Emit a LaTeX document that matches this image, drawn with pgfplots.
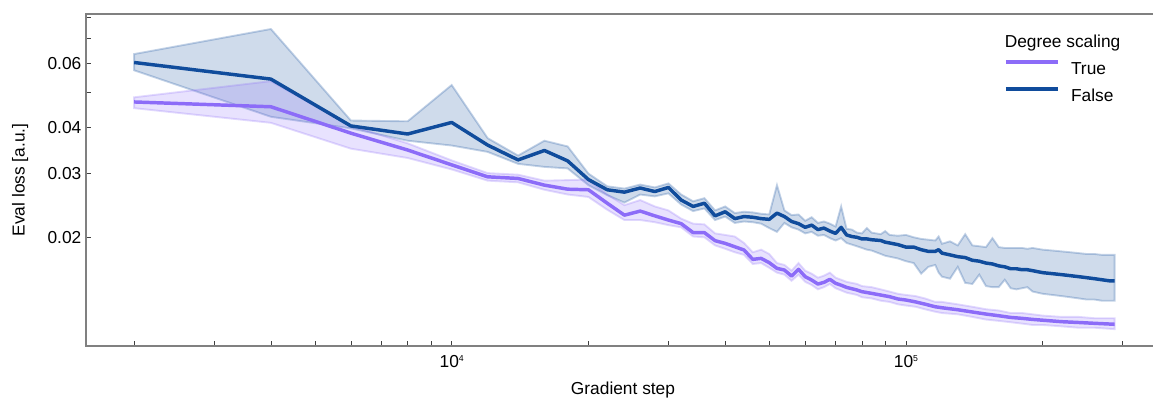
\documentclass[border=0pt]{standalone}
\usepackage{fontspec}
\setmainfont{Liberation Sans}
\usepackage{pgfplots}
\pgfplotsset{compat=1.18}
\usepackage{pgfplotstable}
\usepgfplotslibrary{fillbetween}
\definecolor{cTrue}{RGB}{140,108,248}
\definecolor{cFalse}{RGB}{16,76,156}
\definecolor{axgray}{RGB}{128,128,128}

\pgfplotstableread{
x mean lo hi
2000 0.0470 0.0452 0.0484
4000 0.0456 0.0412 0.0536
6000 0.0386 0.0350 0.0404
8000 0.0347 0.0330 0.0362
10000 0.0316 0.0307 0.0325
12000 0.0293 0.0286 0.0300
14000 0.0290 0.0283 0.0297
16000 0.0278 0.0270 0.0286
18000 0.0271 0.0262 0.0287
20000 0.0270 0.0258 0.0288
22000 0.0248 0.0238 0.0262
24000 0.0230 0.0223 0.0245
26000 0.0236 0.0223 0.0253
28000 0.0229 0.0220 0.0243
30000 0.0223 0.0216 0.0237
32000 0.0218 0.0213 0.0225
34000 0.0206 0.0201 0.0218
36000 0.0206 0.0200 0.0217
38000 0.01958 0.0190 0.0205
40000 0.01925 0.0186 0.0203
42000 0.01884 0.0182 0.0201
44000 0.01846 0.0179 0.0193
46000 0.01740 0.0169 0.0182
48000 0.01751 0.0170 0.0185
50000 0.01704 0.0165 0.0180
52000 0.01644 0.0160 0.0170
54000 0.01627 0.0158 0.0168
56000 0.01566 0.0152 0.0162
58000 0.01634 0.0158 0.0170
60000 0.01560 0.0151 0.0162
62000 0.01527 0.0148 0.0159
64000 0.01489 0.0144 0.0155
66000 0.01505 0.0146 0.0157
68000 0.01534 0.0149 0.0160
70000 0.01496 0.0145 0.0155
72000 0.01478 0.0143 0.0153
74000 0.01458 0.0141 0.0151
76000 0.01446 0.0140 0.0150
78000 0.01434 0.0139 0.0149
80000 0.01419 0.0137 0.0147
84000 0.01404 0.0136 0.0146
88000 0.01389 0.0134 0.0144
92000 0.01375 0.0133 0.0142
96000 0.01355 0.0131 0.0140
100000 0.01346 0.0130 0.0139
105000 0.01330 0.0129 0.0138
110000 0.01312 0.0127 0.0136
116000 0.01290 0.0125 0.0133
120000 0.01282 0.0124 0.0133
130000 0.01266 0.0123 0.0131
140000 0.01248 0.0121 0.0129
150000 0.01232 0.0119 0.0127
160000 0.01219 0.0118 0.0126
170000 0.01206 0.0117 0.0124
180000 0.01199 0.0116 0.0124
190000 0.01191 0.0115 0.0123
200000 0.01185 0.0115 0.0122
220000 0.01174 0.0114 0.0121
240000 0.01168 0.0113 0.0121
260000 0.01162 0.0113 0.0120
288000 0.01155 0.0112 0.0120
}\tTrue

\pgfplotstableread{
x mean lo hi
2000 0.0603 0.0574 0.0636
4000 0.0543 0.0428 0.0745
6000 0.0404 0.0398 0.0418
8000 0.0384 0.0368 0.0416
10000 0.0413 0.0357 0.0523
12000 0.0358 0.0343 0.0374
14000 0.0326 0.0318 0.0335
16000 0.0346 0.0312 0.0368
18000 0.0324 0.0309 0.0355
20000 0.0288 0.0278 0.0299
22000 0.0270 0.0261 0.0276
24000 0.0266 0.0249 0.0272
26000 0.0273 0.0262 0.0279
28000 0.0267 0.0259 0.0274
30000 0.0274 0.0264 0.0281
32000 0.0253 0.0246 0.0262
34000 0.0243 0.0236 0.0251
36000 0.0248 0.0240 0.0256
38000 0.0229 0.0223 0.0237
40000 0.0235 0.0228 0.0243
42000 0.0225 0.0219 0.0233
44000 0.0228 0.0221 0.0235
46000 0.0227 0.0220 0.0234
48000 0.0225 0.0218 0.0232
50000 0.0224 0.0212 0.0231
52000 0.0233 0.0207 0.0278
54000 0.0228 0.0219 0.0237
56000 0.0221 0.0213 0.0230
58000 0.0218 0.0210 0.0231
60000 0.0213 0.0205 0.0222
62000 0.0216 0.0207 0.0227
64000 0.0210 0.0202 0.0219
66000 0.0212 0.0203 0.0221
68000 0.0208 0.0199 0.0218
70000 0.0205 0.0196 0.0214
72000 0.0213 0.0199 0.0243
74000 0.0203 0.0193 0.0211
76000 0.0201 0.0191 0.0210
78000 0.0200 0.0189 0.0206
80000 0.0198 0.0187 0.0205
82000 0.0198 0.0185 0.0212
84000 0.0197 0.0184 0.0206
88000 0.0196 0.0180 0.0204
90000 0.0194 0.0178 0.0208
92000 0.0193 0.0177 0.0203
96000 0.0191 0.0175 0.0202
100000 0.0188 0.0172 0.0203
104000 0.0188 0.0170 0.0200
108000 0.0185 0.0159 0.0198
112000 0.0183 0.0166 0.0197
116000 0.0183 0.0168 0.0196
118000 0.0185 0.0160 0.0201
120000 0.0181 0.0156 0.0192
125000 0.0179 0.0154 0.0195
130000 0.0177 0.0166 0.0190
135000 0.0176 0.0150 0.0204
140000 0.0173 0.0149 0.0190
145000 0.0172 0.0158 0.0189
150000 0.0170 0.0147 0.0188
155000 0.0169 0.0146 0.0199
160000 0.0167 0.0146 0.0188
165000 0.0166 0.0153 0.0187
170000 0.0164 0.0145 0.0187
175000 0.0164 0.0144 0.0187
180000 0.0163 0.0145 0.0187
185000 0.0163 0.0146 0.0186
190000 0.0162 0.0142 0.0187
200000 0.0160 0.0140 0.0185
210000 0.0159 0.0139 0.0184
220000 0.0158 0.0138 0.0183
230000 0.0157 0.0137 0.0182
240000 0.0156 0.0136 0.0181
250000 0.0155 0.0135 0.0180
260000 0.0154 0.0135 0.0180
270000 0.0153 0.0134 0.0179
280000 0.0152 0.0134 0.0179
288000 0.0152 0.0134 0.0179
}\tFalse

\begin{document}
\begin{tikzpicture}[font=\fontsize{13}{15}\selectfont]
\begin{axis}[
  at={(64.5pt,39pt)}, anchor=south west,
  scale only axis, width=805.5pt, height=249pt,
  xmode=log, ymode=log,
  xmin=1567, xmax=362400,
  ymin=0.01007, ymax=0.0819,
  axis line style={axgray, line width=0.9pt},
  tick style={black!75, line width=0.6pt},
  major tick length=4pt, minor tick length=4pt,
  tick align=inside, tick pos=left,
  xtick={10000,100000},
  xticklabels={10\raisebox{0.55ex}{\fontsize{6.5}{7}\selectfont 4},10\raisebox{0.55ex}{\fontsize{6.5}{7}\selectfont 5}},
  minor xtick={2000,3000,4000,5000,6000,7000,8000,9000,20000,30000,40000,50000,60000,70000,80000,90000,200000,300000},
  ytick={0.02,0.03,0.04,0.06},
  yticklabels={0.02,0.03,0.04,0.06},
  extra y ticks={0.05,0.07,0.08},
  extra y tick labels={},
  extra y tick style={tick pos=left, major tick length=4pt},
  xticklabel style={inner sep=0pt, anchor=north, yshift=-6.5pt},
  yticklabel style={inner sep=0pt, anchor=east, xshift=-3.3pt},
  xlabel={Gradient step},
  ylabel={Eval loss [a.u.]},
  xlabel style={at={(axis description cs:0.5,0)}, anchor=base, yshift=-36.5pt},
  ylabel style={at={(axis description cs:-0.0612,0.5)}, anchor=center},
  legend cell align=left,
  legend image code/.code={\draw[#1] (0pt,4.6pt) -- (39pt,4.6pt);},
  legend style={at={(axis description cs:0.8547,0.862)}, anchor=north west,
    draw=none, fill=none, inner sep=0pt, row sep=9.5pt, column sep=8.5pt,
    nodes={inner sep=0pt, text height=9.8pt, text depth=0pt}},
]
% bands
\addplot[name path=fu, draw=none, forget plot] table[x=x,y=hi]{\tFalse};
\addplot[name path=fl, draw=none, forget plot] table[x=x,y=lo]{\tFalse};
\addplot[fill=cFalse, fill opacity=0.2, draw=cFalse, draw opacity=0.25, line width=1.4pt, forget plot] fill between[of=fu and fl];
\addplot[name path=tu, draw=none, forget plot] table[x=x,y=hi]{\tTrue};
\addplot[name path=tl, draw=none, forget plot] table[x=x,y=lo]{\tTrue};
\addplot[fill=cTrue, fill opacity=0.2, draw=cTrue, draw opacity=0.25, line width=1.4pt, forget plot] fill between[of=tu and tl];
% means
\addplot[cTrue, line width=2.6pt, line join=round] table[x=x,y=mean]{\tTrue};
\addlegendentry{True}
\addplot[cFalse, line width=2.6pt, line join=round] table[x=x,y=mean]{\tFalse};
\addlegendentry{False}
\node[anchor=base west, inner sep=0pt] at (axis description cs:0.8552,0.8991) {Degree scaling};
\end{axis}
\pgfresetboundingbox
\useasboundingbox (0pt,0pt) rectangle (864.75pt,298.5pt);
\end{tikzpicture}
\end{document}
